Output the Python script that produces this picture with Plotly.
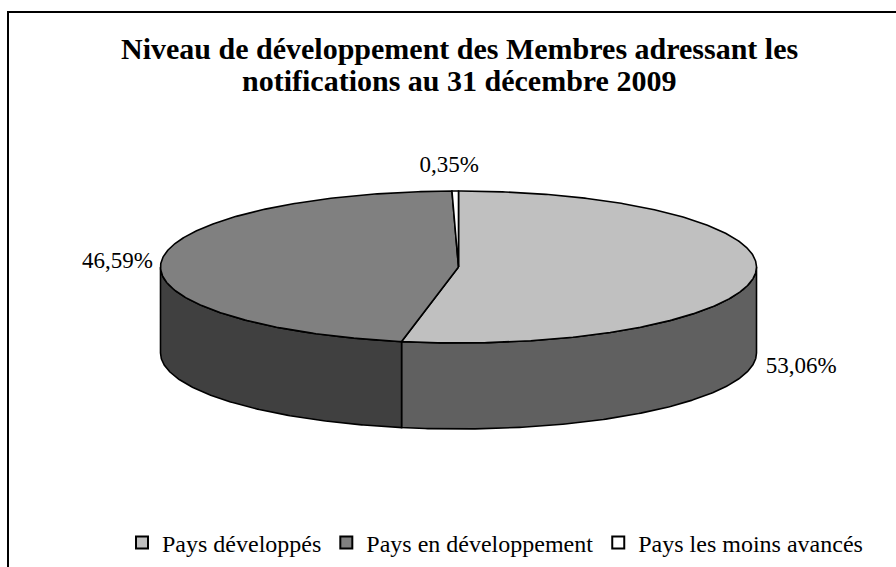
import numpy as np
import plotly.graph_objects as go

# ---- data ----
CATEGORIES = ["Pays développés", "Pays en développement", "Pays les moins avancés"]
VALUES = [53.06, 46.59, 0.35]
VALUE_TEXT = ["53,06%", "46,59%", "0,35%"]
TITLE_LINES = ["Niveau de développement des Membres adressant les",
               "notifications au 31 décembre 2009"]

# ---- style ----
TOP_COLORS = ["#C0C0C0", "#808080", "#FFFFFF"]
SIDE_COLORS = ["#606060", "#404040", "#8C8C8C"]
W, H = 896, 567
CX, CY, RX, RY, DEPTH = 458.5, 267.0, 298.0, 76.0, 86.0
LABEL_DX = [46, -44, -6]
LABEL_DY = [93, 1.5, -25]
TITLE_Y = [48, 80]
SERIF = "Liberation Serif, Times New Roman, serif"

def proj(t, dz=0.0):
    r = np.radians(t)
    return CX + RX * np.cos(r), CY - RY * np.sin(r) + dz

fig = go.Figure()

total = sum(VALUES)
starts, ends = [], []
a = 90.0
for v in VALUES:
    starts.append(a)
    a = a - v / total * 360.0
    ends.append(a)

# side walls (front half only)
for i, v in enumerate(VALUES):
    lo_s, hi_s = ends[i], starts[i]
    for k in range(-2, 2):
        lo = max(lo_s, 180 + 360 * k)
        hi = min(hi_s, 360 + 360 * k)
        if hi - lo <= 0.01:
            continue
        t = np.linspace(lo, hi, 200)
        xt, yt = proj(t)
        xb, yb = proj(t[::-1], DEPTH)
        xs = np.concatenate([xt, xb, xt[:1]])
        ys = np.concatenate([yt, yb, yt[:1]])
        fig.add_trace(go.Scatter(x=xs, y=ys, mode="lines", fill="toself",
                                 fillcolor=SIDE_COLORS[i],
                                 line=dict(color="black", width=1.6),
                                 hoverinfo="skip", showlegend=False))

# top faces
for i, v in enumerate(VALUES):
    t = np.linspace(starts[i], ends[i], max(int(abs(starts[i] - ends[i]) * 2), 8))
    xt, yt = proj(t)
    xs = np.concatenate([[CX], xt, [CX]])
    ys = np.concatenate([[CY], yt, [CY]])
    fig.add_trace(go.Scatter(x=xs, y=ys, mode="lines", fill="toself",
                             fillcolor=TOP_COLORS[i],
                             line=dict(color="black", width=1.6),
                             hoverinfo="text", text=f"{CATEGORIES[i]}: {VALUE_TEXT[i]}",
                             showlegend=False))

# value labels
for i, v in enumerate(VALUES):
    m = (starts[i] + ends[i]) / 2
    px, py = proj(m)
    fig.add_trace(go.Scatter(x=[px + LABEL_DX[i]], y=[py + LABEL_DY[i]], mode="text",
                             text=[VALUE_TEXT[i]],
                             textfont=dict(family=SERIF, size=23, color="black"),
                             hoverinfo="skip", showlegend=False))

# legend entries
for i, c in enumerate(CATEGORIES):
    fig.add_trace(go.Scatter(x=[None], y=[None], mode="markers", name=c,
                             marker=dict(symbol="square", size=13, color=TOP_COLORS[i],
                                         line=dict(color="black", width=1.2))))

fig.add_shape(type="rect", x0=8, y0=12, x1=W + 20, y1=H + 20,
              line=dict(color="black", width=2), fillcolor="rgba(0,0,0,0)", layer="below")

for line, yy in zip(TITLE_LINES, TITLE_Y):
    fig.add_annotation(text=line, x=459, y=yy, xref="x", yref="y", showarrow=False,
                       xanchor="center", yanchor="middle",
                       font=dict(family=SERIF, size=30, color="black", weight="bold"))

fig.update_layout(
    width=W, height=H,
    margin=dict(l=0, r=0, t=0, b=0),
    paper_bgcolor="white", plot_bgcolor="white",
    xaxis=dict(range=[0, W], visible=False, fixedrange=True),
    yaxis=dict(range=[H, 0], visible=False, fixedrange=True),
    legend=dict(orientation="h", x=495 / W, y=1 - 543 / H, xanchor="center", yanchor="middle",
                font=dict(family=SERIF, size=24, color="black"),
                itemsizing="constant", bgcolor="rgba(0,0,0,0)", tracegroupgap=0),
    showlegend=True,
)

fig.write_html("out.html", config={"displayModeBar": False},
               post_script="document.body.style.margin='0px';")
